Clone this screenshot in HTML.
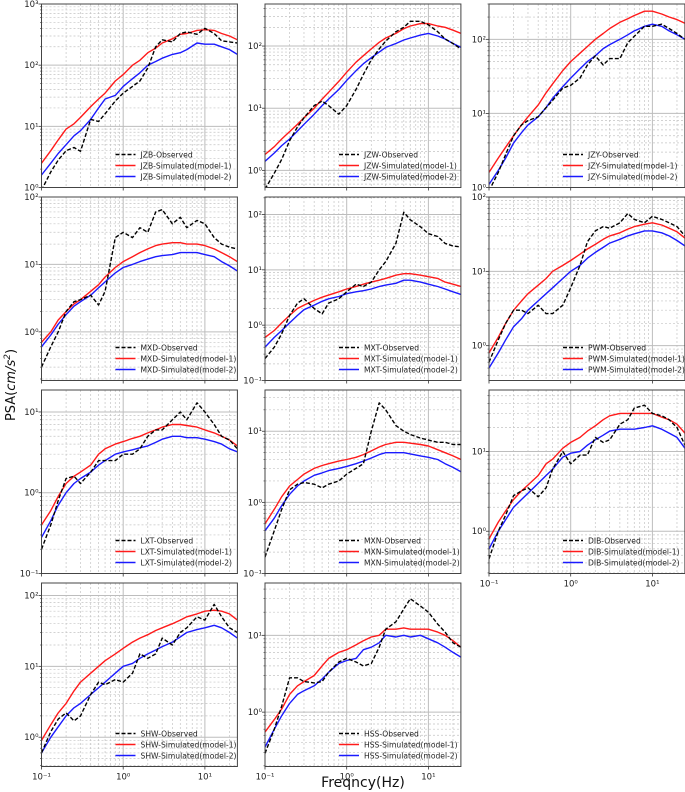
<!DOCTYPE html>
<html><head><meta charset="utf-8">
<style>
html,body{margin:0;padding:0;background:#fff;}
body{width:685px;height:792px;overflow:hidden;position:relative;font-family:"DejaVu Sans","Liberation Sans",sans-serif;}
svg{position:absolute;left:0;top:0;}
</style></head>
<body>
<svg id="chart" width="685" height="792" viewBox="0 0 685 792"></svg>
<script>
const freqs = [0.1,0.13,0.16,0.2,0.25,0.3,0.4,0.5,0.6,0.8,1,1.3,1.6,2,2.5,3,4,5,6,8,10,13,16,20,25];
const stations = ["JZB","JZW","JZY","MXD","MXT","PWM","LXT","MXN","DIB","SHW","HSS"];
const yRanges = [[1,1000],[0.53,475],[1,300],[0.19,100],[0.1,207],[0.34,100],[0.1,18.7],[0.1,38],[0.295,59],[0.386,150],[0.196,48]];
const obsJZB = [0.9,1.8,2.8,4,4.5,3.9,13,12,16,26,35,45,55,90,200,260,240,330,350,320,400,330,250,240,230];
const m1JZB = [2.5,4,6,9,11,14,21,28,35,55,70,100,120,160,190,230,270,320,330,370,380,370,330,300,260];
const m2JZB = [1.6,2.5,3.6,5,7,8.5,13,20,28,32,45,60,75,100,115,130,150,160,180,230,220,220,200,180,150];
const obsJZW = [0.5,0.9,1.5,3,5,7,11,13,11,8,11,20,35,60,90,120,170,200,250,250,220,170,130,110,90];
const m1JZW = [1.8,2.4,3.2,4.2,5.5,7,10,14,18,27,38,55,70,90,115,135,160,190,210,230,230,210,200,180,160];
const m2JZW = [1.4,1.9,2.5,3.2,4.3,5.5,8,11,14,20,28,40,52,65,80,95,110,125,135,150,160,145,130,110,95];
const obsJZY = [0.9,1.6,2.8,5,7,8,9,12,15,22,24,30,45,60,45,55,55,90,110,150,150,160,140,120,100];
const m1JZY = [1.6,2.5,3.5,5,7,9,13,19,25,38,50,65,80,100,120,140,170,190,210,240,240,220,200,185,165];
const m2JZY = [1.1,1.7,2.5,4,5.5,7,9,12,16,23,30,40,50,60,75,85,100,115,130,150,160,150,130,115,100];
const obsMXD = [0.3,0.6,1,2,2.8,3,3.5,2.5,4,25,30,25,35,30,60,65,40,50,35,45,40,25,20,18,17];
const m1MXD = [0.7,1,1.5,2,2.6,3,4,5,6.5,9,11,13,15,17,19,20,21,21,20,20,19,17,15,13,11];
const m2MXD = [0.6,0.9,1.3,1.8,2.4,2.8,3.5,4.5,5.5,7.5,9,10,11,12,13,13.5,14,15,15,15,14,13,11,9.5,8];
const obsMXT = [0.25,0.4,0.7,1.5,2.5,3,2,1.6,2.5,3,4,5.5,5,6,10,14,30,110,80,60,45,40,30,27,26];
const m1MXT = [0.6,0.8,1.1,1.5,2,2.3,2.8,3.2,3.5,4,4.5,5,5.5,6,6.5,7,8,8.5,8.5,8,7.5,7,6,5.5,5];
const m2MXT = [0.4,0.6,0.8,1.1,1.5,1.9,2.3,2.7,3,3.3,3.7,4,4.2,4.5,5,5.3,5.7,6.5,6.5,6,5.5,5,4.5,4,3.6];
const obsPWM = [0.6,1.2,2,3,3,2.7,3.5,2.7,2.7,3.5,6,12,25,35,40,38,45,60,50,45,55,50,45,40,30];
const m1PWM = [0.8,1.3,2,3,4,5,6.5,8,10,12,14,17,20,23,27,30,33,37,40,43,45,42,38,34,28];
const m2PWM = [0.5,0.8,1.2,1.8,2.3,3,4,5,6,8,10,12,15,18,21,24,27,30,32,35,35,33,30,26,22];
const obsLXT = [0.2,0.4,0.8,1.5,1.6,1.3,1.8,2.5,2.5,2.5,3,3,3.5,5,6,6,8,10,8,13,10,7,5,4.5,3.5];
const m1LXT = [0.4,0.6,0.9,1.3,1.6,1.8,2.2,3,3.5,4,4.3,4.7,5,5.5,6,6.5,7,7,6.8,6.5,6,5.5,5,4.5,3.8];
const m2LXT = [0.28,0.45,0.7,1,1.3,1.5,1.8,2.2,2.5,3,3.2,3.4,3.6,3.8,4.2,4.6,5,5,4.8,4.8,4.6,4.3,4,3.5,3.2];
const obsMXN = [0.17,0.4,0.8,1.5,1.8,1.9,1.8,1.6,1.8,2,2.5,3,3.5,10,25,20,12,10,9,8,7.5,7,7,6.5,6.5];
const m1MXN = [0.5,0.8,1.2,1.7,2.1,2.5,3,3.3,3.5,3.8,4,4.3,4.7,5.3,6,6.5,7,7,6.8,6.5,6.2,5.5,5,4.5,4];
const m2MXN = [0.4,0.6,0.9,1.3,1.7,2,2.4,2.6,2.8,3,3.2,3.5,3.8,4.2,4.7,5,5,5,4.8,4.5,4.3,4,3.5,3.1,2.7];
const obsDIB = [0.45,1,1.6,2.8,3.2,3.5,2.7,3.5,6,10,7,9,9,15,13,14,22,25,35,38,30,28,25,20,12];
const m1DIB = [0.8,1.3,1.8,2.5,3.2,3.8,5,7,8,11,13,15,18,21,25,28,30,30,30,30,30,27,25,22,17];
const m2DIB = [0.6,1,1.4,2,2.5,3,4,5,6,8.5,9.5,10,12,14,16,18,19,19,19,20,21,19,17,15,11];
const obsSHW = [0.6,1.2,1.8,2.2,1.7,2,4,6,5.5,6.5,6,8,15,13,15,25,20,30,35,50,45,75,50,35,30];
const m1SHW = [0.9,1.5,2.2,3,4.5,6,8,10,12,15,18,22,25,28,32,35,40,45,50,55,60,62,60,55,45];
const m2SHW = [0.6,1,1.4,2,2.6,3,4,5,6,8,10,11,13,15,17,19,22,26,30,33,35,38,35,30,25];
const obsHSS = [0.29,0.6,1.2,2.8,2.8,2.5,2.4,2.5,3.3,4.5,5,4.5,4,4.3,7,12,15,22,30,24,20,14,11,8,7];
const m1HSS = [0.55,0.8,1.1,1.7,2.2,2.5,3,4,5,6,6.5,7.5,8.5,9.5,10,12,12,12.5,12,12,12,11,10,8.5,7];
const m2HSS = [0.35,0.6,0.9,1.3,1.7,1.9,2.2,2.7,3.3,4.3,4.7,5,6.5,7,8,10,9.5,10,9.5,10,9,8,7,6,5.2];

const obsSeries = [obsJZB,obsJZW,obsJZY,obsMXD,obsMXT,obsPWM,obsLXT,obsMXN,obsDIB,obsSHW,obsHSS];
const m1Series = [m1JZB,m1JZW,m1JZY,m1MXD,m1MXT,m1PWM,m1LXT,m1MXN,m1DIB,m1SHW,m1HSS];
const m2Series = [m2JZB,m2JZW,m2JZY,m2MXD,m2MXT,m2PWM,m2LXT,m2MXN,m2DIB,m2SHW,m2HSS];

const NS='http://www.w3.org/2000/svg';
const svg=document.getElementById('chart');
const colLeft=[41.5,265,489], W=195.9;
const rowTop=[4,197,390,583], H=183.5;
const XMIN=0.1, XMAX=25;
function mk(tag,attrs,parent){const e=document.createElementNS(NS,tag);for(const k in attrs)e.setAttribute(k,attrs[k]);(parent||svg).appendChild(e);return e;}
const supMap={'-1':'⁻¹','0':'⁰','1':'¹','2':'²','3':'³'};

stations.forEach((st,i)=>{
  const col=i%3,row=Math.floor(i/3);
  const L=colLeft[col],T=rowTop[row];
  const [ymin,ymax]=yRanges[i];
  const xs=f=>L+W*(Math.log10(f)-Math.log10(XMIN))/(Math.log10(XMAX)-Math.log10(XMIN));
  const ys=v=>T+H-H*(Math.log10(v)-Math.log10(ymin))/(Math.log10(ymax)-Math.log10(ymin));
  const g=mk('g',{});
  
  
  const clipId='clip'+i;
  const cp=mk('clipPath',{id:clipId},g);mk('rect',{x:L,y:T,width:W,height:H},cp);
  const grid=mk('g',{'clip-path':'url(#'+clipId+')'},g);
  
  
  for(let e=-1;e<=1;e++)for(let m=1;m<=9;m++){const f=m*Math.pow(10,e);if(f<XMIN||f>XMAX)continue;const x=xs(f);
    if(m===1)mk('line',{x1:x,y1:T,x2:x,y2:T+H,stroke:'#bdbdbd','stroke-width':1},grid);
    else mk('line',{x1:x,y1:T,x2:x,y2:T+H,stroke:'#c4c4c4','stroke-width':0.7,'stroke-dasharray':'2,2'},grid);}
  for(let e=-2;e<=3;e++)for(let m=1;m<=9;m++){const v=m*Math.pow(10,e);if(v<ymin||v>ymax)continue;const y=ys(v);
    if(m===1){mk('line',{x1:L,y1:y,x2:L+W,y2:y,stroke:'#bdbdbd','stroke-width':1},grid);
      const t=mk('text',{x:L-3,y:y+3,'text-anchor':'end','font-size':8.5,fill:'#222'},g);t.textContent='10'+supMap[String(e)];
      
      
      mk('line',{x1:L-3,y1:y,x2:L,y2:y,stroke:'#333','stroke-width':0.8},g);}
    else {mk('line',{x1:L,y1:y,x2:L+W,y2:y,stroke:'#c4c4c4','stroke-width':0.7,'stroke-dasharray':'2,2'},grid);
      mk('line',{x1:L-1.5,y1:y,x2:L,y2:y,stroke:'#333','stroke-width':0.6},g);}
  }
  const series=[[obsSeries[i],'#000','4,2','observed'],[m1Series[i],'#ff1a1a','','simulated-model-1'],[m2Series[i],'#1a1aff','','simulated-model-2']];
  series.slice().reverse().forEach(([vals,c,d,nm])=>{
    const pts=freqs.map((f,k)=>xs(f).toFixed(1)+','+ys(vals[k]).toFixed(1)).join(' ');
    const p=mk('polyline',{points:pts,fill:'none',stroke:c,'stroke-width':1.4,'stroke-dasharray':d,'stroke-linejoin':'round','clip-path':'url(#'+clipId+')'},g);
    
    
  });
  const fr=mk('rect',{x:L,y:T,width:W,height:H,fill:'none',stroke:'#444','stroke-width':1},g);
  
  
  const showX=(row===3)||(row===2&&col===2);
  [-1,0,1].forEach(e=>{const x=xs(Math.pow(10,e));mk('line',{x1:x,y1:T+H,x2:x,y2:T+H+3,stroke:'#333','stroke-width':0.8},g);
    if(showX){const t=mk('text',{x:x,y:T+H+13,'text-anchor':'middle','font-size':8.5,fill:'#222'},g);t.textContent='10'+supMap[String(e)];
      
      }});
  const lg=mk('g',{},g);
  
  
  const labels=[st+'-Observed',st+'-Simulated(model-1)',st+'-Simulated(model-2)'];
  series.forEach(([v,c,d],k)=>{const ly=T+H-33+k*11;const lx=L+74;
    mk('line',{x1:lx,y1:ly,x2:lx+20,y2:ly,stroke:c,'stroke-width':1.4,'stroke-dasharray':d},lg);
    const t=mk('text',{x:lx+25,y:ly+3,'font-size':7.6,fill:'#222'},lg);t.textContent=labels[k];
    
    });
});
const yl=mk('text',{x:0,y:0,transform:'translate(15,385) rotate(-90)','text-anchor':'middle','font-size':13,fill:'#111'});
yl.innerHTML='PSA(<tspan font-style="italic">cm/s</tspan><tspan font-size="9" dy="-5" font-style="italic">2</tspan><tspan dy="5">)</tspan>';


const xl=mk('text',{x:363,y:787,'text-anchor':'middle','font-size':14,fill:'#111'});
xl.textContent='Freqncy(Hz)';


</script>
</body></html>
